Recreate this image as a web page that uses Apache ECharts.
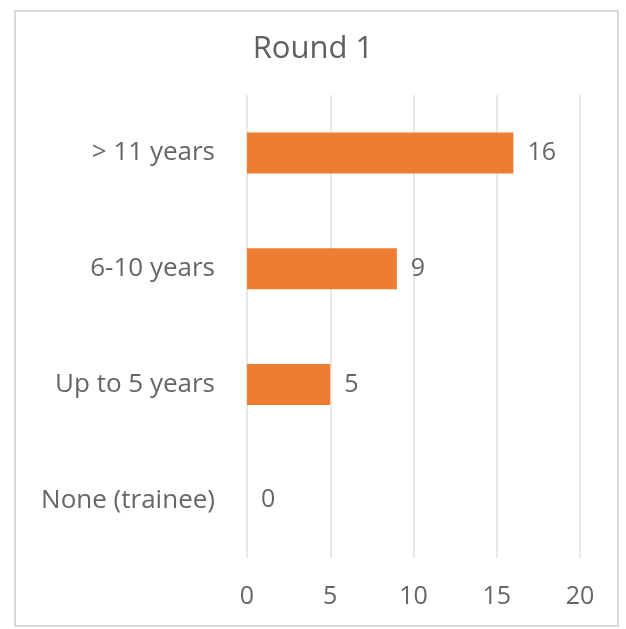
<!DOCTYPE html>
<html>
<head>
<meta charset="utf-8">
<script src="https://cdn.jsdelivr.net/npm/echarts@6/dist/echarts.min.js"></script>
<style>
  html, body { margin: 0; padding: 0; background: #fff; }
  #chart { width: 626px; height: 629px; }
</style>
</head>
<body>
<div id="chart"></div>
<script>
// Years of experience, top to bottom
const categories = ['> 11 years', '6-10 years', 'Up to 5 years', 'None (trainee)'];
const counts = [16, 9, 5, 0];
const xTicks = { min: 0, max: 20, interval: 5 };

const FONT = '"Open Sans", "Noto Sans", sans-serif';
const TEXT = '#666666';

const chart = echarts.init(document.getElementById('chart'), null, { renderer: 'canvas' });
chart.setOption({
  backgroundColor: '#fff',
  animation: false,
  title: {
    text: 'Round 1',
    left: 'center',
    top: 29,
    textStyle: { fontFamily: FONT, fontSize: 31, fontWeight: 'normal', color: '#606060' }
  },
  graphic: [{
    type: 'rect',
    shape: { x: 15, y: 11, width: 603, height: 615 },
    style: { fill: 'none', stroke: '#d9d9d9', lineWidth: 2 },
    silent: true
  }],
  grid: { left: 247, right: 46, top: 95, bottom: 71, containLabel: false },
  xAxis: {
    type: 'value',
    min: xTicks.min, max: xTicks.max, interval: xTicks.interval,
    axisLine: { show: false },
    axisTick: { show: false },
    splitLine: { lineStyle: { color: '#e0e0e0', width: 1.5 } },
    axisLabel: { margin: 26, fontFamily: FONT, fontSize: 25, color: TEXT }
  },
  yAxis: {
    type: 'category',
    inverse: true,
    data: categories,
    axisLine: { show: false },
    axisTick: { show: false },
    splitLine: { show: false },
    axisLabel: { margin: 32, fontFamily: FONT, fontSize: 26, color: TEXT, padding: [9, 0, 0, 0] }
  },
  series: [{
    type: 'bar',
    data: counts,
    barWidth: 41,
    itemStyle: { color: '#ED7D31' },
    label: {
      show: true, position: 'right', distance: 14,
      fontFamily: FONT, fontSize: 25, color: TEXT, padding: [6, 0, 0, 0]
    }
  }]
});
</script>
</body>
</html>
